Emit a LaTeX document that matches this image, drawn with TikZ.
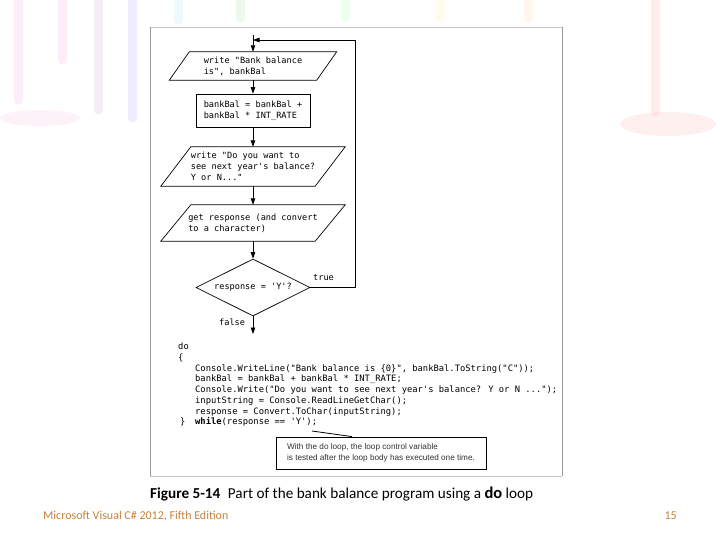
\documentclass[tikz,border=0pt]{standalone}
\usepackage{fontspec}
\setmainfont{Carlito}
\newfontfamily\monof{DejaVu Sans Mono}
\newfontfamily\armf{Liberation Sans}
\usetikzlibrary{shapes.geometric,arrows.meta}
\definecolor{footc}{RGB}{196,132,62}
\definecolor{framec}{RGB}{200,200,200}
\newcommand\drawpara[2]{%
  \draw[shapeline] ([xshift=-#2]#1.south west) -- ([xshift=#2]#1.north west) --
    ([xshift=#2]#1.north east) -- ([xshift=-#2]#1.south east) -- cycle;}
\begin{document}
\begin{tikzpicture}[x=1pt,y=-1pt,
  shapeline/.style={draw=black,line width=0.7pt},
  flowtext/.style={font=\monof\fontsize{8.6}{10.8}\selectfont,align=left,inner ysep=0pt},
  iobox/.style={flowtext,minimum height=#1,minimum width=154pt,inner xsep=0pt},
  procbox/.style={flowtext,shapeline,minimum height=33pt,minimum width=114pt,inner xsep=0pt},
  decbox/.style={flowtext,shapeline,diamond,aspect=2,minimum width=114pt,minimum height=57pt,inner sep=0pt},
  flowarrow/.style={line width=0.7pt,-{Triangle[width=4.5pt,length=6.5pt]}},
  lbl/.style={font=\monof\fontsize{8.6}{10}\selectfont,inner sep=0pt},
  codetext/.style={font=\monof\fontsize{8.8}{10.7}\selectfont,align=left,inner sep=0pt,anchor=north west},
  calltext/.style={font=\armf\fontsize{8.2}{11.5}\selectfont,text=black!80,align=left,draw=black,line width=0.8pt,
    minimum width=210pt,minimum height=32pt,inner xsep=0pt},
  captext/.style={font=\fontsize{15.2}{17}\selectfont,inner sep=0pt,anchor=base west},
  foottext/.style={font=\fontsize{12}{14}\selectfont,text=footc,inner sep=0pt,anchor=base west},
  drip/.style={line width=9pt,line cap=round,opacity=0.07}
]
\useasboundingbox[fill=white] (0,0) rectangle (720,540);
% faint background decoration
\draw[drip,draw=magenta] (18,0) -- (18,100);
\draw[drip,draw=magenta] (62,0) -- (62,60);
\draw[drip,draw=violet] (98,0) -- (98,110);
\draw[drip,draw=blue] (132,0) -- (132,118);
\draw[drip,draw=cyan] (178,0) -- (178,20);
\draw[drip,draw=green!70!black] (240,0) -- (240,18);
\draw[drip,draw=green] (345,0) -- (345,18);
\draw[drip,draw=yellow!80!orange] (440,0) -- (440,18);
\draw[drip,draw=orange] (528,0) -- (528,18);
\draw[drip,draw=red] (655,0) -- (655,112);
\fill[red,opacity=0.06] (668,124) ellipse (48pt and 12pt);
\fill[magenta,opacity=0.05] (40,118) ellipse (40pt and 8pt);

% figure frame
\draw[draw=framec,line width=0.8pt] (150,27) -- (562,27);
\draw[draw=black!40,line width=0.9pt] (150,27) -- (150,476);
\draw[draw=black!40,line width=0.9pt] (562,27) -- (562,476);
\draw[draw=framec,line width=0.8pt] (150,476) -- (562,476);

% flowchart
\coordinate (top) at (253,35);
\node[iobox=28pt,minimum width=147pt] (p1) at (253,66) {write "Bank balance\\is", bankBal\phantom{ ance}};
\drawpara{p1}{10pt}
\node[procbox] (r) at (253,110.5) {bankBal = bankBal +\\bankBal * INT\_RATE};
\node[iobox=39pt] (p2) at (253,166.5) {write "Do you want to\\see next year's balance?\\Y or N..."};
\drawpara{p2}{15pt}
\node[iobox=36pt] (p3) at (253,223) {get response (and convert\\to a character)};
\drawpara{p3}{15pt}
\node[decbox] (d) at (253,287.5) {response = 'Y'?};
\coordinate (fend) at (253,334);
\coordinate (loopc) at (355,40);

\draw[flowarrow] (top) -- (p1.north);
\draw[flowarrow] (p1.south) -- (r.north);
\draw[flowarrow] (r.south) -- (p2.north);
\draw[flowarrow] (p2.south) -- (p3.north);
\draw[flowarrow] (p3.south) -- (d.north);
\draw[flowarrow] (d.south) -- (fend);
\draw[flowarrow] (d.east) -| (loopc) -- (top |- loopc);
\node[lbl,anchor=south west] (tl) at (313,281) {true};
\node[lbl,anchor=west] (fl) at (219,322.5) {false};

% code
\node[codetext] (code) at (178,343) {do\\
\{\\
\hspace*{17pt}Console.WriteLine("Bank balance is \{0\}", bankBal.ToString("C"));\\
\hspace*{17pt}bankBal = bankBal + bankBal * INT\_RATE;\\
\hspace*{17pt}Console.Write("Do you want to see next year's balance? Y or N ...");\\
\hspace*{17pt}inputString = Console.ReadLineGetChar();\\
\hspace*{17pt}response = Convert.ToChar(inputString);\\
\makebox[17pt][l]{\hspace*{2pt}\}}\textbf{while}(response == 'Y');};

% callout
\node[calltext] (call) at (381,453) {With the do loop, the loop control variable\\is tested after the loop body has executed one time.};
\coordinate (semi) at (312,431);
\draw[line width=0.8pt] (semi) -- (call.north west -| 352,0);

% caption and footer
\node[captext] (cap) at (150,498) {\textbf{Figure 5-14}\enspace Part of the bank balance program using a {\fontsize{16.5}{17}\selectfont\textbf{do}} loop};
\node[foottext] (foot) at (43,519) {Microsoft Visual C\# 2012, Fifth Edition};
\node[foottext,anchor=base east] (pg) at (677,519) {15};
\end{tikzpicture}
\end{document}
